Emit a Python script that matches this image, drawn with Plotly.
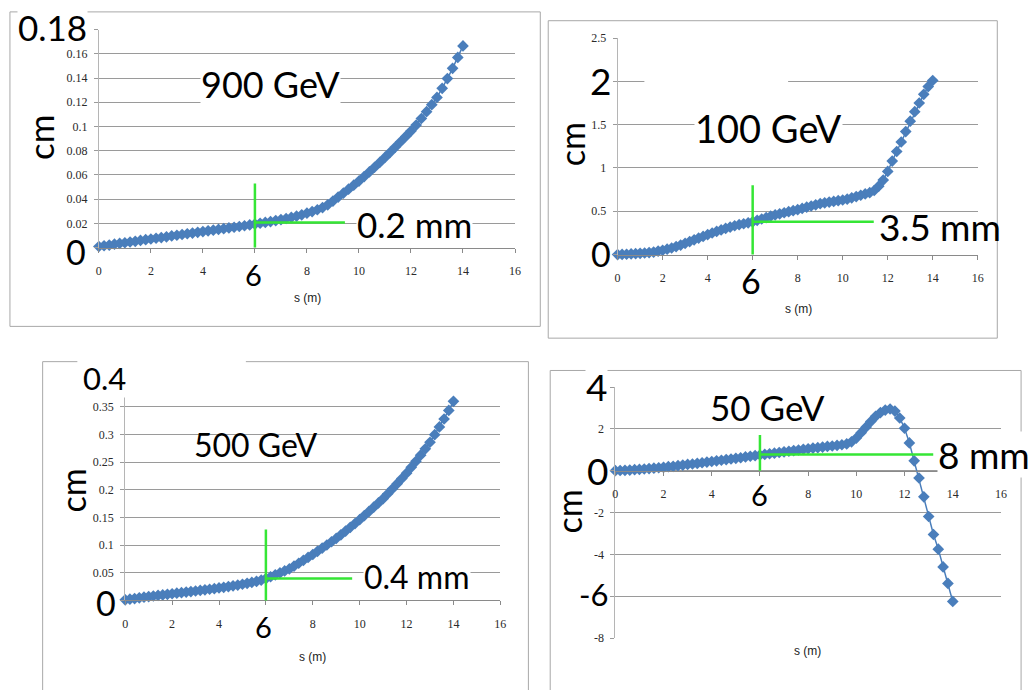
import plotly.graph_objects as go

# ---------------- data ----------------
s_m = [0.0, 0.2, 0.4, 0.6, 0.8, 1.0, 1.2, 1.4, 1.6, 1.8,
       2.0, 2.2, 2.4, 2.6, 2.8, 3.0, 3.2, 3.4, 3.6, 3.8,
       4.0, 4.2, 4.4, 4.6, 4.8, 5.0, 5.2, 5.4, 5.6, 5.8,
       6.0, 6.2, 6.4, 6.6, 6.8, 7.0, 7.2, 7.4, 7.6, 7.8,
       8.0, 8.2, 8.4, 8.6, 8.8, 9.0, 9.2, 9.4, 9.6, 9.8,
       10.0, 10.2, 10.4, 10.6, 10.8, 11.0, 11.2, 11.4, 11.6, 11.8,
       12.0, 12.2, 12.4, 12.6, 12.8, 13.0, 13.2, 13.4, 13.6, 13.8,
       14.0]

cm_900GeV = [0.0010, 0.0016, 0.0022, 0.0029, 0.0035, 0.0041, 0.0047, 0.0053, 0.0060, 0.0066,
             0.0072, 0.0078, 0.0084, 0.0090, 0.0097, 0.0103, 0.0109, 0.0115, 0.0121, 0.0127,
             0.0133, 0.0139, 0.0145, 0.0151, 0.0157, 0.0163, 0.0169, 0.0175, 0.0181, 0.0188,
             0.0195, 0.0202, 0.0209, 0.0216, 0.0224, 0.0232, 0.0241, 0.0250, 0.0260, 0.0271,
             0.0285, 0.0298, 0.0313, 0.0331, 0.0354, 0.0385, 0.0418, 0.0450, 0.0483, 0.0516,
             0.0550, 0.0587, 0.0625, 0.0664, 0.0704, 0.0745, 0.0787, 0.0830, 0.0874, 0.0918,
             0.0962, 0.1012, 0.1066, 0.1122, 0.1180, 0.1240, 0.1315, 0.1395, 0.1480, 0.1570,
             0.1665]

cm_100GeV = [0.000, 0.002, 0.004, 0.007, 0.010, 0.014, 0.018, 0.023, 0.029, 0.040,
             0.050, 0.062, 0.076, 0.092, 0.110, 0.130, 0.150, 0.170, 0.190, 0.210,
             0.230, 0.249, 0.267, 0.285, 0.302, 0.318, 0.333, 0.345, 0.356, 0.367,
             0.378, 0.395, 0.411, 0.427, 0.443, 0.458, 0.471, 0.483, 0.495, 0.507,
             0.519, 0.533, 0.547, 0.561, 0.575, 0.588, 0.597, 0.606, 0.614, 0.622,
             0.630, 0.640, 0.655, 0.670, 0.685, 0.700, 0.715, 0.740, 0.790, 0.860,
             0.960, 1.080, 1.190, 1.300, 1.420, 1.540, 1.650, 1.750, 1.850, 1.940,
             2.010]

cm_500GeV = [0.0010, 0.0022, 0.0034, 0.0046, 0.0058, 0.0070, 0.0080, 0.0090, 0.0100, 0.0110,
             0.0120, 0.0130, 0.0140, 0.0150, 0.0160, 0.0170, 0.0180, 0.0191, 0.0202, 0.0213,
             0.0225, 0.0237, 0.0250, 0.0263, 0.0277, 0.0292, 0.0308, 0.0325, 0.0343, 0.0366,
             0.0395, 0.0428, 0.0462, 0.0497, 0.0533, 0.0570, 0.0620, 0.0672, 0.0724, 0.0777,
             0.0830, 0.0887, 0.0944, 0.1002, 0.1061, 0.1120, 0.1186, 0.1253, 0.1321, 0.1390,
             0.1460, 0.1534, 0.1609, 0.1685, 0.1762, 0.1840, 0.1929, 0.2019, 0.2110, 0.2204,
             0.2300, 0.2406, 0.2515, 0.2626, 0.2740, 0.2860, 0.2996, 0.3136, 0.3280, 0.3435,
             0.3600]

cm_50GeV = [0.00, 0.01, 0.02, 0.03, 0.05, 0.06, 0.08, 0.10, 0.12, 0.14,
            0.16, 0.19, 0.21, 0.24, 0.27, 0.30, 0.32, 0.35, 0.38, 0.41,
            0.44, 0.47, 0.50, 0.53, 0.56, 0.59, 0.62, 0.66, 0.69, 0.72,
            0.75, 0.78, 0.81, 0.84, 0.87, 0.90, 0.93, 0.96, 0.99, 1.02,
            1.05, 1.08, 1.10, 1.13, 1.16, 1.18, 1.21, 1.24, 1.28, 1.38,
            1.56, 1.82, 2.08, 2.35, 2.60, 2.78, 2.90, 2.95, 2.85, 2.52,
            2.03, 1.33, 0.47, -0.35, -1.25, -2.19, -3.05, -3.75, -4.60, -5.39,
            -6.25]

panel_labels = ["900 GeV", "100 GeV", "500 GeV", "50 GeV"]
mark_labels = ["0.2 mm", "3.5 mm", "0.4 mm", "8 mm"]
s_mark = 6
dev_at_mark = [0.0208, 0.378, 0.0397, 0.78]       # cm at s = 6 m
x_ticks = [0, 2, 4, 6, 8, 10, 12, 14, 16]
y_ticks_900 = [0, 0.02, 0.04, 0.06, 0.08, 0.1, 0.12, 0.14, 0.16, 0.18]
y_ticks_100 = [0, 0.5, 1, 1.5, 2, 2.5]
y_ticks_500 = [0, 0.05, 0.1, 0.15, 0.2, 0.25, 0.3, 0.35, 0.4]
y_ticks_50 = [-8, -6, -4, -2, 0, 2, 4]
big_ticks_900 = [0, 0.18]
big_ticks_100 = [0, 2]
big_ticks_500 = [0, 0.4]
big_ticks_50 = [-6, 0, 4]

# ---------------- layout helpers ----------------
W, H = 1036, 690
def px(x): return x / W
def py(y): return 1 - y / H

BLUE = "#4a7ebb"
GREEN = "#35e635"
GRID = "#9a9a9a"
TICKFONT = dict(family="Liberation Serif", size=12, color="#2a2a2a")
BIGFONT = "Lato"

fig = go.Figure()

series = [cm_900GeV, cm_100GeV, cm_500GeV, cm_50GeV]
for i, ys in enumerate(series):
    sfx = "" if i == 0 else str(i + 1)
    fig.add_trace(go.Scatter(
        x=s_m, y=ys, xaxis="x" + sfx, yaxis="y" + sfx,
        mode="lines+markers", cliponaxis=False,
        line=dict(color=BLUE, width=1.5),
        marker=dict(symbol="diamond", size=9, color=BLUE, line=dict(width=0)),
        hoverinfo="skip", showlegend=False))

def tick_text(vals, big):
    out = []
    for v in vals:
        if any(abs(v - b) < 1e-9 for b in big):
            out.append("")
        else:
            out.append(f"{v:g}")
    return out

def xaxis(dom, anchor, position=None):
    d = dict(domain=[px(dom[0]), px(dom[1])], range=[0, 16], tickvals=x_ticks,
             ticktext=tick_text(x_ticks, [s_mark]),
             showgrid=False, zeroline=False, showline=True, linecolor="#8a8a8a",
             ticks="outside", ticklen=4, tickcolor="#8a8a8a", tickfont=TICKFONT,
             ticklabelstandoff=8, anchor=anchor, fixedrange=True)
    if position is not None:
        d["anchor"] = "free"
        d["position"] = position
    return d

def yaxis(dom, rng, vals, big, anchor):
    return dict(domain=[py(dom[0]), py(dom[1])], range=list(rng), tickvals=vals,
                ticktext=tick_text(vals, big), showgrid=True, gridcolor=GRID, gridwidth=1,
                zeroline=False, showline=True, linecolor="#b5b5b5", ticks="outside",
                ticklen=4, tickcolor="#9a9a9a", tickfont=TICKFONT, ticklabelstandoff=4,
                anchor=anchor, fixedrange=True)

fig.update_layout(
    xaxis=xaxis((96.7, 516.5), "y"),
    yaxis=yaxis((245.7, 23.0), (0, 0.18), y_ticks_900, big_ticks_900, "x"),
    xaxis2=xaxis((620.0, 983.3), "y2"),
    yaxis2=yaxis((252.7, 31.7), (0, 2.5), y_ticks_100, big_ticks_100, "x2"),
    xaxis3=xaxis((123.3, 501.7), "y3"),
    yaxis3=yaxis((605.7, 379.9), (0, 0.4), y_ticks_500, big_ticks_500, "x3"),
    xaxis4=xaxis((617.7, 1006.7), "y4", position=py(473.3)),
    yaxis4=yaxis((644.1, 387.9), (-8, 4), y_ticks_50, big_ticks_50, "x4"),
)

shapes = []
# panel frames
for (x0, y0, x1, y1) in [(7, 5, 542, 326), (550, 14, 1003, 338),
                         (40, 362, 530, 700), (552, 371, 1027, 700)]:
    shapes.append(dict(type="rect", xref="paper", yref="paper",
                       x0=px(x0), x1=px(x1), y0=py(y1), y1=py(y0),
                       line=dict(color="#a8a8a8", width=1), fillcolor="rgba(0,0,0,0)",
                       layer="below"))
# white cover patches
for (x0, y0, x1, y1) in [(647, 70, 792, 82), (75, 356, 245, 368), (123, 372, 262, 388)]:
    shapes.append(dict(type="rect", xref="paper", yref="paper",
                       x0=px(x0), x1=px(x1), y0=py(y1), y1=py(y0),
                       line=dict(width=0), fillcolor="white", layer="above"))

# green marker lines (s = 6 m)
green_v = [(0.0, 0.053), (-0.08, 0.80), (-0.004, 0.128), (0.0, 1.71)]
green_h_end = [9.46, 11.38, 9.68, 13.19]
for i in range(4):
    sfx = "" if i == 0 else str(i + 1)
    shapes.append(dict(type="line", xref="x" + sfx, yref="y" + sfx,
                       x0=s_mark, x1=s_mark, y0=green_v[i][0], y1=green_v[i][1],
                       line=dict(color=GREEN, width=2.5), layer="above"))
    shapes.append(dict(type="line", xref="x" + sfx, yref="y" + sfx,
                       x0=s_mark, x1=green_h_end[i], y0=dev_at_mark[i], y1=dev_at_mark[i],
                       line=dict(color=GREEN, width=2.5), layer="above"))
fig.update_layout(shapes=shapes)

ann = []
def big(text, x, y, size, bg=False, angle=0):
    ann.append(dict(text=text, x=px(x), y=py(y), xref="paper", yref="paper",
                    xanchor="center", yanchor="middle", showarrow=False, textangle=angle,
                    font=dict(family=BIGFONT, size=size, color="black"),
                    bgcolor="white" if bg else "rgba(0,0,0,0)", borderpad=0))

def small(text, x, y):
    ann.append(dict(text=text, x=px(x), y=py(y), xref="paper", yref="paper",
                    xanchor="center", yanchor="middle", showarrow=False,
                    font=dict(family="Liberation Sans", size=12, color="#222222")))

# panel 1 : 900 GeV
big(f"{big_ticks_900[1]:g}", 50, 20, 35, bg=True)
big(f"{big_ticks_900[0]:g}", 74, 250, 34)
big("cm", 38, 133, 35, angle=-90)
big(f"{s_mark}", 253, 273, 29)
big(panel_labels[0], 270, 79, 36, bg=True)
big(mark_labels[0], 415, 221, 35, bg=True)
small("s (m)", 307, 297)

# panel 2 : 100 GeV
big(f"{big_ticks_100[1]:g}", 603, 75, 37, bg=True)
big(f"{big_ticks_100[0]:g}", 603, 252, 34)
big("cm", 573, 140, 34, angle=-90)
big(f"{s_mark}", 755, 279, 34)
big(panel_labels[1], 772, 123, 38, bg=True)
big(mark_labels[1], 945, 224, 37)
small("s (m)", 802, 308)

# panel 3 : 500 GeV
big(f"{big_ticks_500[1]:g}", 102, 379, 31, bg=True)
big(f"{big_ticks_500[0]:g}", 104, 608, 34)
big("cm", 71, 493, 34, angle=-90)
big(f"{s_mark}", 263, 632, 29)
big(panel_labels[2], 255, 447, 32)
big(mark_labels[2], 418, 581, 32, bg=True)
small("s (m)", 312, 663)

# panel 4 : 50 GeV
big(f"{big_ticks_50[2]:g}", 599, 387, 37, bg=True)
big(f"{big_ticks_50[1]:g}", 600, 473, 37)
big(f"{big_ticks_50[0]:g}", 596, 599, 31)
big("cm", 571, 515, 34, angle=-90)
big(f"{s_mark}", 763, 498, 29)
big(panel_labels[3], 771, 408, 35)
big(mark_labels[3], 990, 457, 37, bg=True)
small("s (m)", 812, 657)

fig.update_layout(annotations=ann, width=W, height=H,
                  margin=dict(l=0, r=0, t=0, b=0),
                  paper_bgcolor="white", plot_bgcolor="white", showlegend=False)

fig.write_html("out.html")
